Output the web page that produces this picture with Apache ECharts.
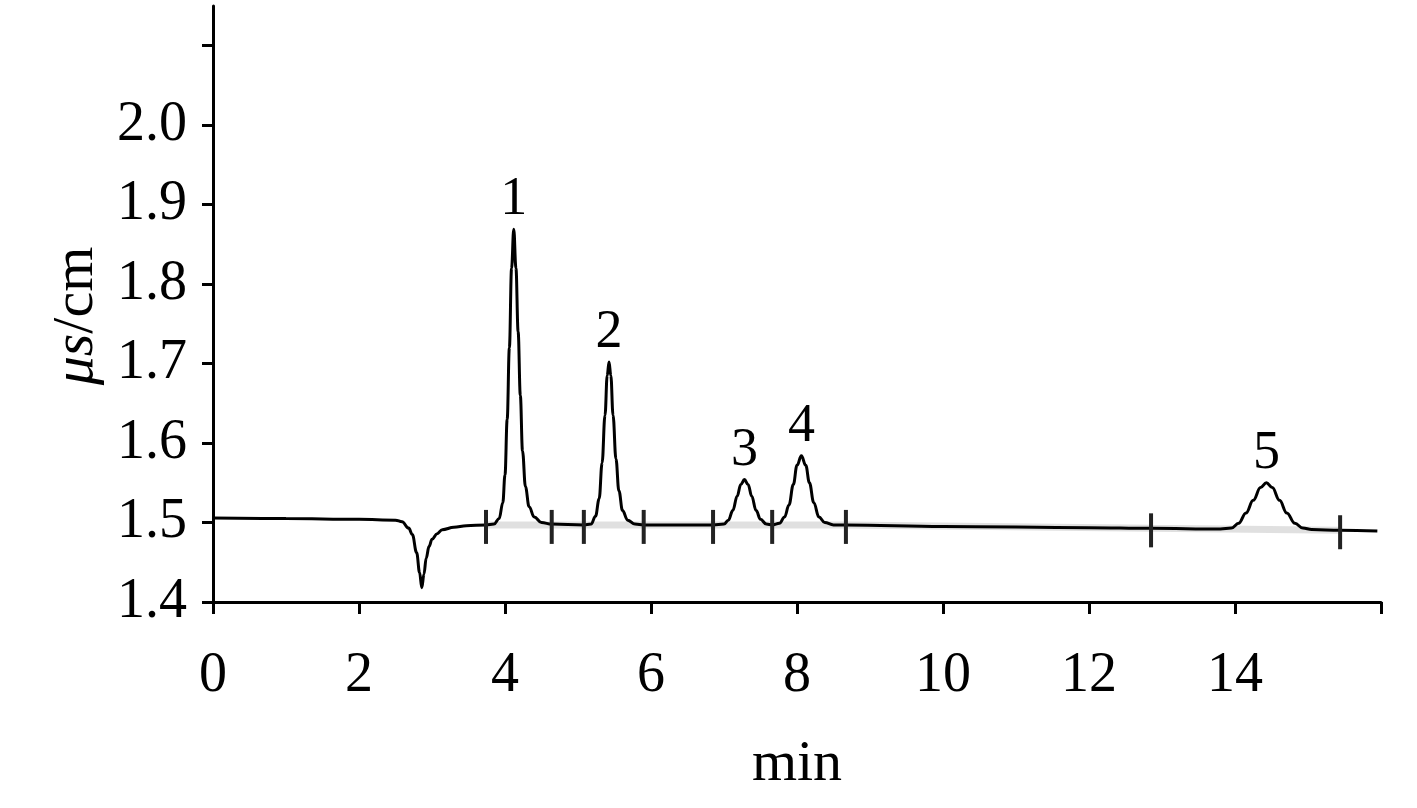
<!DOCTYPE html>
<html>
<head>
<meta charset="utf-8">
<title>chromatogram</title>
<script src="https://cdn.jsdelivr.net/npm/echarts@6/dist/echarts.min.js"></script>
<style>
  html, body { margin: 0; padding: 0; background: #fff; }
  #main { width: 1417px; height: 808px; }
</style>
</head>
<body>
<div id="main"></div>
<script>
// retention time (min) and conductivity (us/cm)
var timeMin = [
  0, 1.0, 2.0, 2.5, 2.59, 2.68, 2.73, 2.79, 2.83, 2.86, 2.89, 2.92, 2.96, 3.0, 3.07, 3.14, 3.3, 3.47,
  3.74, 3.85, 3.92, 3.97, 4.0, 4.03, 4.06, 4.09, 4.12, 4.15, 4.18, 4.21, 4.24, 4.28, 4.33, 4.4, 4.5, 4.64,
  5.08, 5.18, 5.24, 5.29, 5.33, 5.37, 5.4, 5.425, 5.45, 5.48, 5.52, 5.56, 5.61, 5.68, 5.78, 5.9,
  6.85, 7.0, 7.06, 7.12, 7.18, 7.23, 7.28, 7.33, 7.38, 7.44, 7.5, 7.58, 7.66,
  7.76, 7.83, 7.89, 7.95, 8.0, 8.06, 8.12, 8.17, 8.23, 8.3, 8.38, 8.5, 8.67,
  10, 12, 12.85, 13.8, 13.95, 14.05, 14.15, 14.25, 14.35, 14.43, 14.51, 14.61, 14.71, 14.82, 14.93, 15.05,
  15.44, 15.95
];
var signal = [
  1.5057, 1.505, 1.504, 1.503, 1.501, 1.493, 1.485, 1.462, 1.437, 1.418, 1.435, 1.455, 1.47, 1.479, 1.486, 1.491, 1.494, 1.496,
  1.497, 1.498, 1.505, 1.525, 1.56, 1.63, 1.72, 1.82, 1.869, 1.82, 1.74, 1.66, 1.59, 1.545, 1.52, 1.507, 1.5, 1.498,
  1.497, 1.498, 1.508, 1.53, 1.575, 1.635, 1.685, 1.702, 1.685, 1.635, 1.58, 1.54, 1.515, 1.503, 1.498, 1.497,
  1.497, 1.498, 1.503, 1.515, 1.533, 1.548, 1.554, 1.548, 1.533, 1.515, 1.504, 1.498, 1.497,
  1.499, 1.507, 1.522, 1.548, 1.572, 1.584, 1.572, 1.55, 1.525, 1.507, 1.5, 1.497, 1.497,
  1.495, 1.4935, 1.4927, 1.4918, 1.493, 1.499, 1.512, 1.528, 1.544, 1.55, 1.544, 1.528, 1.512, 1.499, 1.493, 1.4912,
  1.4903, 1.4893
];

// integration marks on the baseline
var markTime = [3.74, 4.64, 5.08, 5.9, 6.85, 7.66, 8.67, 12.85, 15.44];
var markLevel = [1.497, 1.497, 1.497, 1.497, 1.497, 1.497, 1.497, 1.4927, 1.4903];

// peak numbers at the apex of each peak
var peakNames = ['1', '2', '3', '4', '5'];
var peakTime = [4.12, 5.425, 7.28, 8.06, 14.43];
var peakTop = [1.869, 1.702, 1.554, 1.584, 1.55];

var xTicks = [0, 2, 4, 6, 8, 10, 12, 14, 16];
var xLabels = [0, 2, 4, 6, 8, 10, 12, 14];
var yTicks = [1.4, 1.5, 1.6, 1.7, 1.8, 1.9, 2.0, 2.1];
var yLabels = [1.4, 1.5, 1.6, 1.7, 1.8, 1.9, 2.0];

var FONT = '"Liberation Serif", "DejaVu Serif", serif';

var chart = echarts.init(document.getElementById('main'));

var curve = timeMin.map(function (t, i) { return [t, signal[i]]; });
var marks = markTime.map(function (t, i) { return [t, markLevel[i]]; });
var peaks = peakTime.map(function (t, i) { return { value: [t, peakTop[i]], name: peakNames[i] }; });

var option = {
  animation: false,
  backgroundColor: '#fff',
  grid: { left: 213, right: 36, top: 6, bottom: 206 },
  xAxis: {
    type: 'value',
    min: 0,
    max: 16,
    name: 'min',
    nameLocation: 'middle',
    nameGap: 134,
    nameTextStyle: { fontFamily: FONT, fontSize: 58, color: '#000' },
    axisLine: { onZero: false, lineStyle: { color: '#000', width: 3 } },
    axisTick: { show: true, length: 12, lineStyle: { color: '#000', width: 3 }, customValues: xTicks },
    axisLabel: {
      fontFamily: FONT, fontSize: 56, color: '#000', margin: 46,
      customValues: xLabels,
      formatter: function (v) { return String(v); }
    },
    splitLine: { show: false }
  },
  yAxis: {
    type: 'value',
    min: 1.4,
    max: 2.15,
    name: '{it|μs}/cm',
    nameLocation: 'middle',
    nameRotate: 90,
    nameGap: 100,
    nameTextStyle: {
      fontFamily: FONT, fontSize: 58, color: '#000', padding: [0, 24, 0, 0],
      rich: { it: { fontFamily: FONT, fontSize: 58, fontStyle: 'italic', color: '#000' } }
    },
    axisLine: { show: true, lineStyle: { color: '#000', width: 3 } },
    axisTick: { show: true, length: 11, lineStyle: { color: '#000', width: 3 }, customValues: yTicks },
    axisLabel: {
      fontFamily: FONT, fontSize: 56, color: '#000', margin: 26,
      customValues: yLabels,
      formatter: function (v) { return v.toFixed(1); }
    },
    splitLine: { show: false }
  },
  series: [
    {
      // faint integration baseline
      type: 'line',
      data: marks,
      symbol: 'none',
      lineStyle: { color: 'rgba(0,0,0,0.12)', width: 7 },
      z: 1
    },
    {
      type: 'line',
      data: curve,
      symbol: 'none',
      smooth: 0.4,
      smoothMonotone: 'x',
      lineStyle: { color: '#000', width: 3 },
      z: 3
    },
    {
      type: 'scatter',
      data: marks,
      symbol: 'rect',
      symbolSize: [4, 34],
      symbolOffset: [0, 2],
      itemStyle: { color: '#222', opacity: 1 },
      z: 4
    },
    {
      type: 'scatter',
      data: peaks,
      symbolSize: 0,
      itemStyle: { opacity: 1 },
      label: {
        show: true,
        position: 'top',
        distance: 2,
        formatter: '{b}',
        fontFamily: FONT,
        fontSize: 54,
        color: '#000'
      },
      z: 5
    }
  ]
};

chart.setOption(option);
</script>
</body>
</html>
